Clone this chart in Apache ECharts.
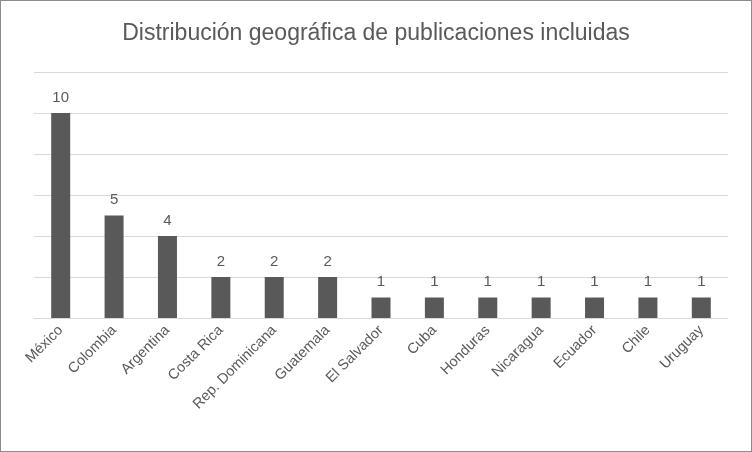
<!DOCTYPE html>
<html><head><meta charset="utf-8">
<script src="https://cdn.jsdelivr.net/npm/echarts@6/dist/echarts.min.js"></script>
<style>html,body{margin:0;padding:0;background:#fff}#c{width:750px;height:450px;border:1px solid #8c8c8c}</style>
</head><body><div id="c"></div>
<script>
const categories = ["México","Colombia","Argentina","Costa Rica","Rep. Dominicana","Guatemala","El Salvador","Cuba","Honduras","Nicaragua","Ecuador","Chile","Uruguay"];
const values = [10,5,4,2,2,2,1,1,1,1,1,1,1];
const chart = echarts.init(document.getElementById('c'));
chart.setOption({
  animation:false,
  title:{text:'Distribución geográfica de publicaciones incluidas',left:'center',top:16,
    textStyle:{fontFamily:'Liberation Sans, Arial',fontSize:23,fontWeight:'normal',color:'#595959'}},
  grid:{left:33,right:23,top:71,bottom:133},
  xAxis:{type:'category',data:categories,
    axisLine:{lineStyle:{color:'#d9d9d9'}},axisTick:{show:false},
    axisLabel:{rotate:45,interval:0,color:'#595959',fontSize:14.5,fontFamily:'Liberation Sans, Arial',margin:10}},
  yAxis:{type:'value',min:0,max:12,interval:2,axisLabel:{show:false},axisLine:{show:false},axisTick:{show:false},
    splitLine:{lineStyle:{color:'#d9d9d9'}}},
  series:[{type:'bar',data:values,barWidth:19,itemStyle:{color:'#595959'},
    label:{show:true,position:'top',distance:8,color:'#595959',fontSize:15,fontFamily:'Liberation Sans, Arial'}}]
});
</script></body></html>
